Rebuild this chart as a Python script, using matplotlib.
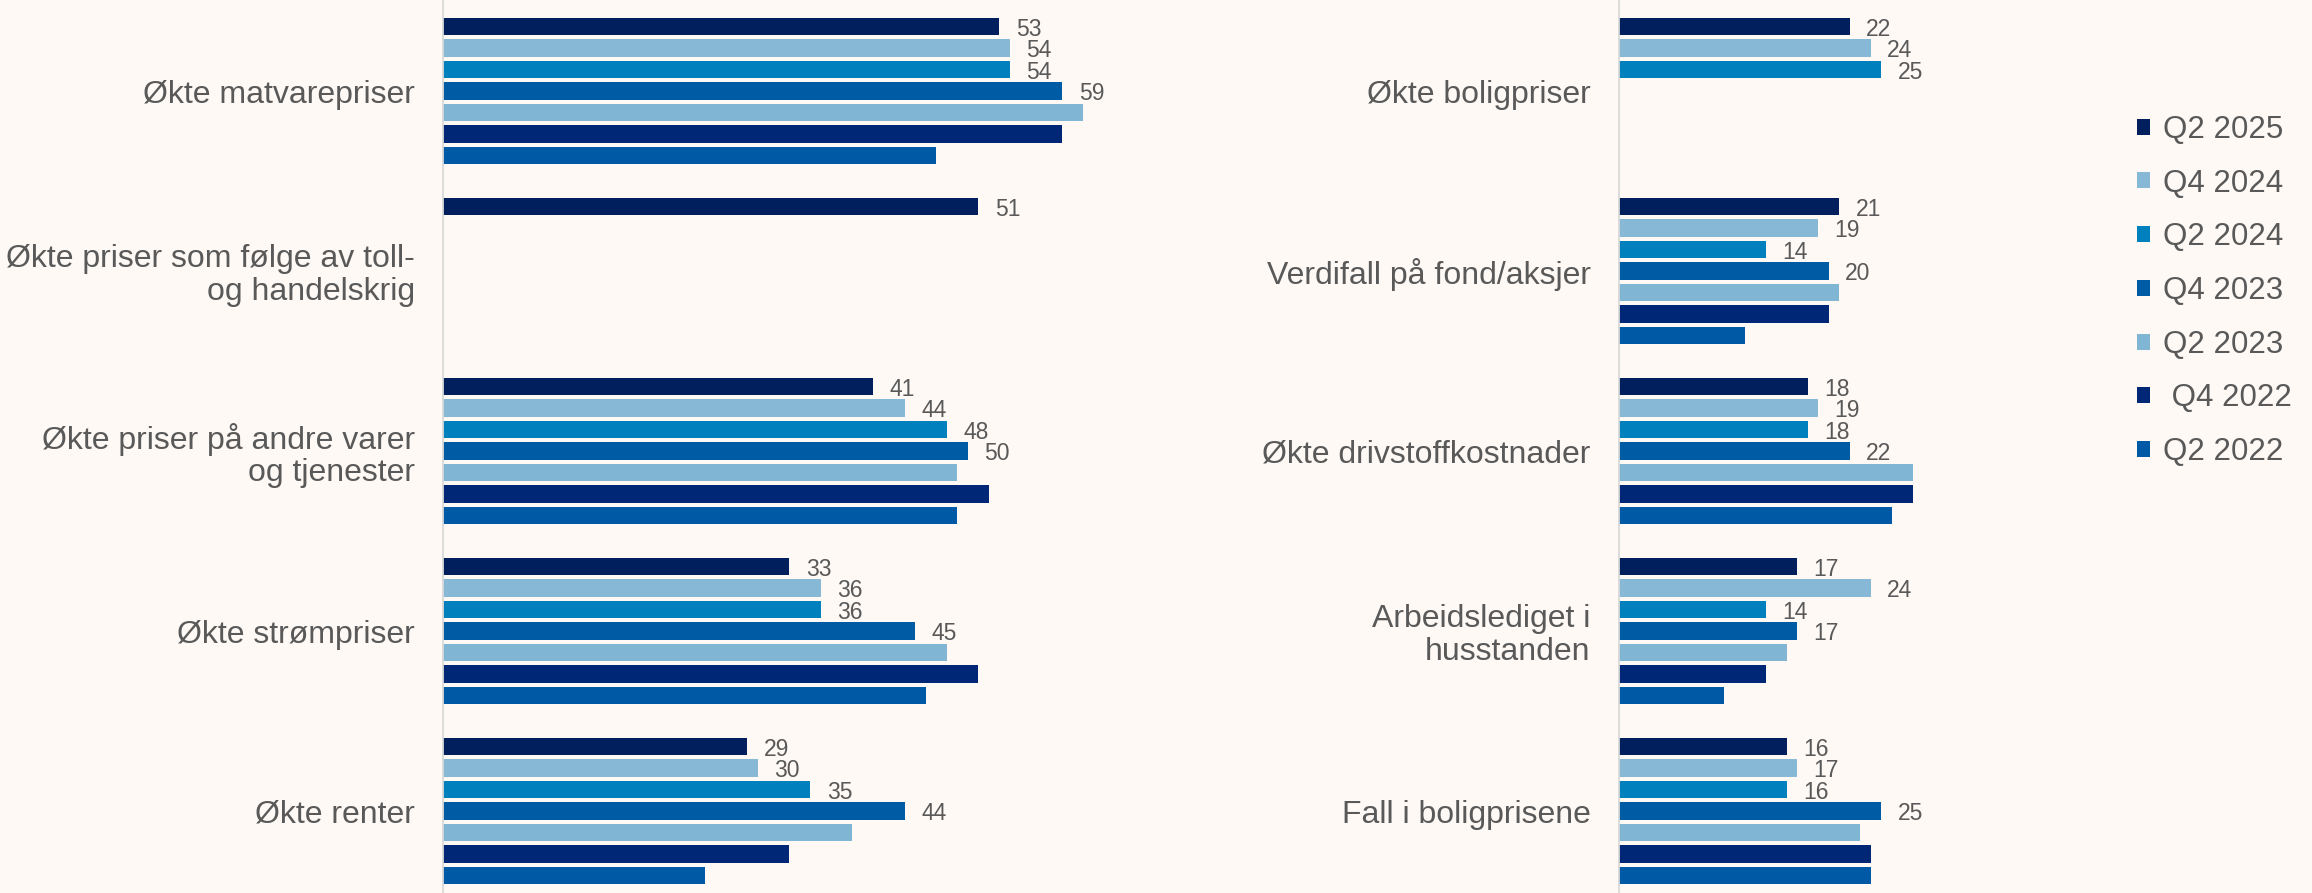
import numpy as np
import matplotlib
matplotlib.use("Agg")
import matplotlib.pyplot as plt
from matplotlib.patches import Patch

plt.rcParams['font.family'] = ['Liberation Sans', 'DejaVu Sans']

series = ["Q2 2025", "Q4 2024", "Q2 2024", "Q4 2023", "Q2 2023", " Q4 2022", "Q2 2022"]
colors = ["#001F5C", "#87B9D6", "#0080BD", "#005BA5", "#80B5D4", "#002776", "#0059A4"]
labelled = [True, True, True, True, False, False, False]

left_cats = ["Økte matvarepriser",
             "Økte priser som følge av toll-\nog handelskrig",
             "Økte priser på andre varer\nog tjenester",
             "Økte strømpriser",
             "Økte renter"]
right_cats = ["Økte boligpriser",
              "Verdifall på fond/aksjer",
              "Økte drivstoffkostnader",
              "Arbeidslediget i\nhusstanden",
              "Fall i boligprisene"]

nan = np.nan
# values per series, in category order
left_q2_2025 = [53, 51, 41, 33, 29]
left_q4_2024 = [54, nan, 44, 36, 30]
left_q2_2024 = [54, nan, 48, 36, 35]
left_q4_2023 = [59, nan, 50, 45, 44]
left_q2_2023 = [61, nan, 49, 48, 39]
left_q4_2022 = [59, nan, 52, 51, 33]
left_q2_2022 = [47, nan, 49, 46, 25]

right_q2_2025 = [22, 21, 18, 17, 16]
right_q4_2024 = [24, 19, 19, 24, 17]
right_q2_2024 = [25, 14, 18, 14, 16]
right_q4_2023 = [nan, 20, 22, 17, 25]
right_q2_2023 = [nan, 21, 28, 16, 23]
right_q4_2022 = [nan, 20, 28, 14, 24]
right_q2_2022 = [nan, 12, 26, 10, 24]

left_vals = [left_q2_2025, left_q4_2024, left_q2_2024, left_q4_2023,
             left_q2_2023, left_q4_2022, left_q2_2022]
right_vals = [right_q2_2025, right_q4_2024, right_q2_2024, right_q4_2023,
              right_q2_2023, right_q4_2022, right_q2_2022]

W, H = 2312, 893
BG = "#FEF9F5"
TXT = "#595959"
PX_PER_UNIT = 10.5

fig = plt.figure(figsize=(W / 100, H / 100), dpi=100, facecolor=BG)

top_px, bot_px = 1, 901
def make_ax(x0_px, xmax):
    w_px = xmax * PX_PER_UNIT
    ax = fig.add_axes([x0_px / W, 1 - bot_px / H, w_px / W, (bot_px - top_px) / H])
    ax.set_facecolor("none")
    ax.set_xlim(0, xmax)
    return ax

axL = make_ax(442.5, 64)
axR = make_ax(1618.5, 40)

pitch = 21.5 / 180.0
bar_h = 17.7 / 180.0

for ax, cats, vals in [(axL, left_cats, left_vals), (axR, right_cats, right_vals)]:
    y = np.arange(len(cats))
    for i, (v, c) in enumerate(zip(vals, colors)):
        v = np.array(v, dtype=float)
        yy = y + (i - 3) * pitch
        ok = ~np.isnan(v)
        bars = ax.barh(yy[ok], v[ok], height=bar_h, color=c, label=series[i])
        if labelled[i]:
            for b, val in zip(bars, v[ok]):
                ax.annotate(f"{val:.0f}", xy=(val, b.get_y() + b.get_height() / 2),
                            xytext=(12, -2), textcoords="offset points",
                            ha="left", va="center", fontsize=16.5, color=TXT)
    ax.set_ylim(len(cats) - 0.5, -0.5)
    ax.set_yticks(y)
    ax.set_yticklabels(cats, fontsize=23, color=TXT)
    for t in ax.get_yticklabels():
        t.set_linespacing(1.1)
    ax.tick_params(axis="y", length=0, pad=20)
    ax.set_xticks([])
    for s in ["top", "right", "bottom"]:
        ax.spines[s].set_visible(False)
    ax.spines["left"].set_color("#D9D9D9")
    ax.spines["left"].set_linewidth(1.3)

handles = [Patch(facecolor=c, edgecolor="none") for c in colors]
fig.legend(handles, series, loc="center left",
           bbox_to_anchor=(2137 / W, 1 - 291 / H),
           frameon=False, fontsize=22.5, labelcolor=TXT,
           handlelength=0.42, handleheight=0.42, handletextpad=0.42,
           labelspacing=0.76, borderpad=0, borderaxespad=0)

fig.savefig("out.png", dpi=100, facecolor=BG)
